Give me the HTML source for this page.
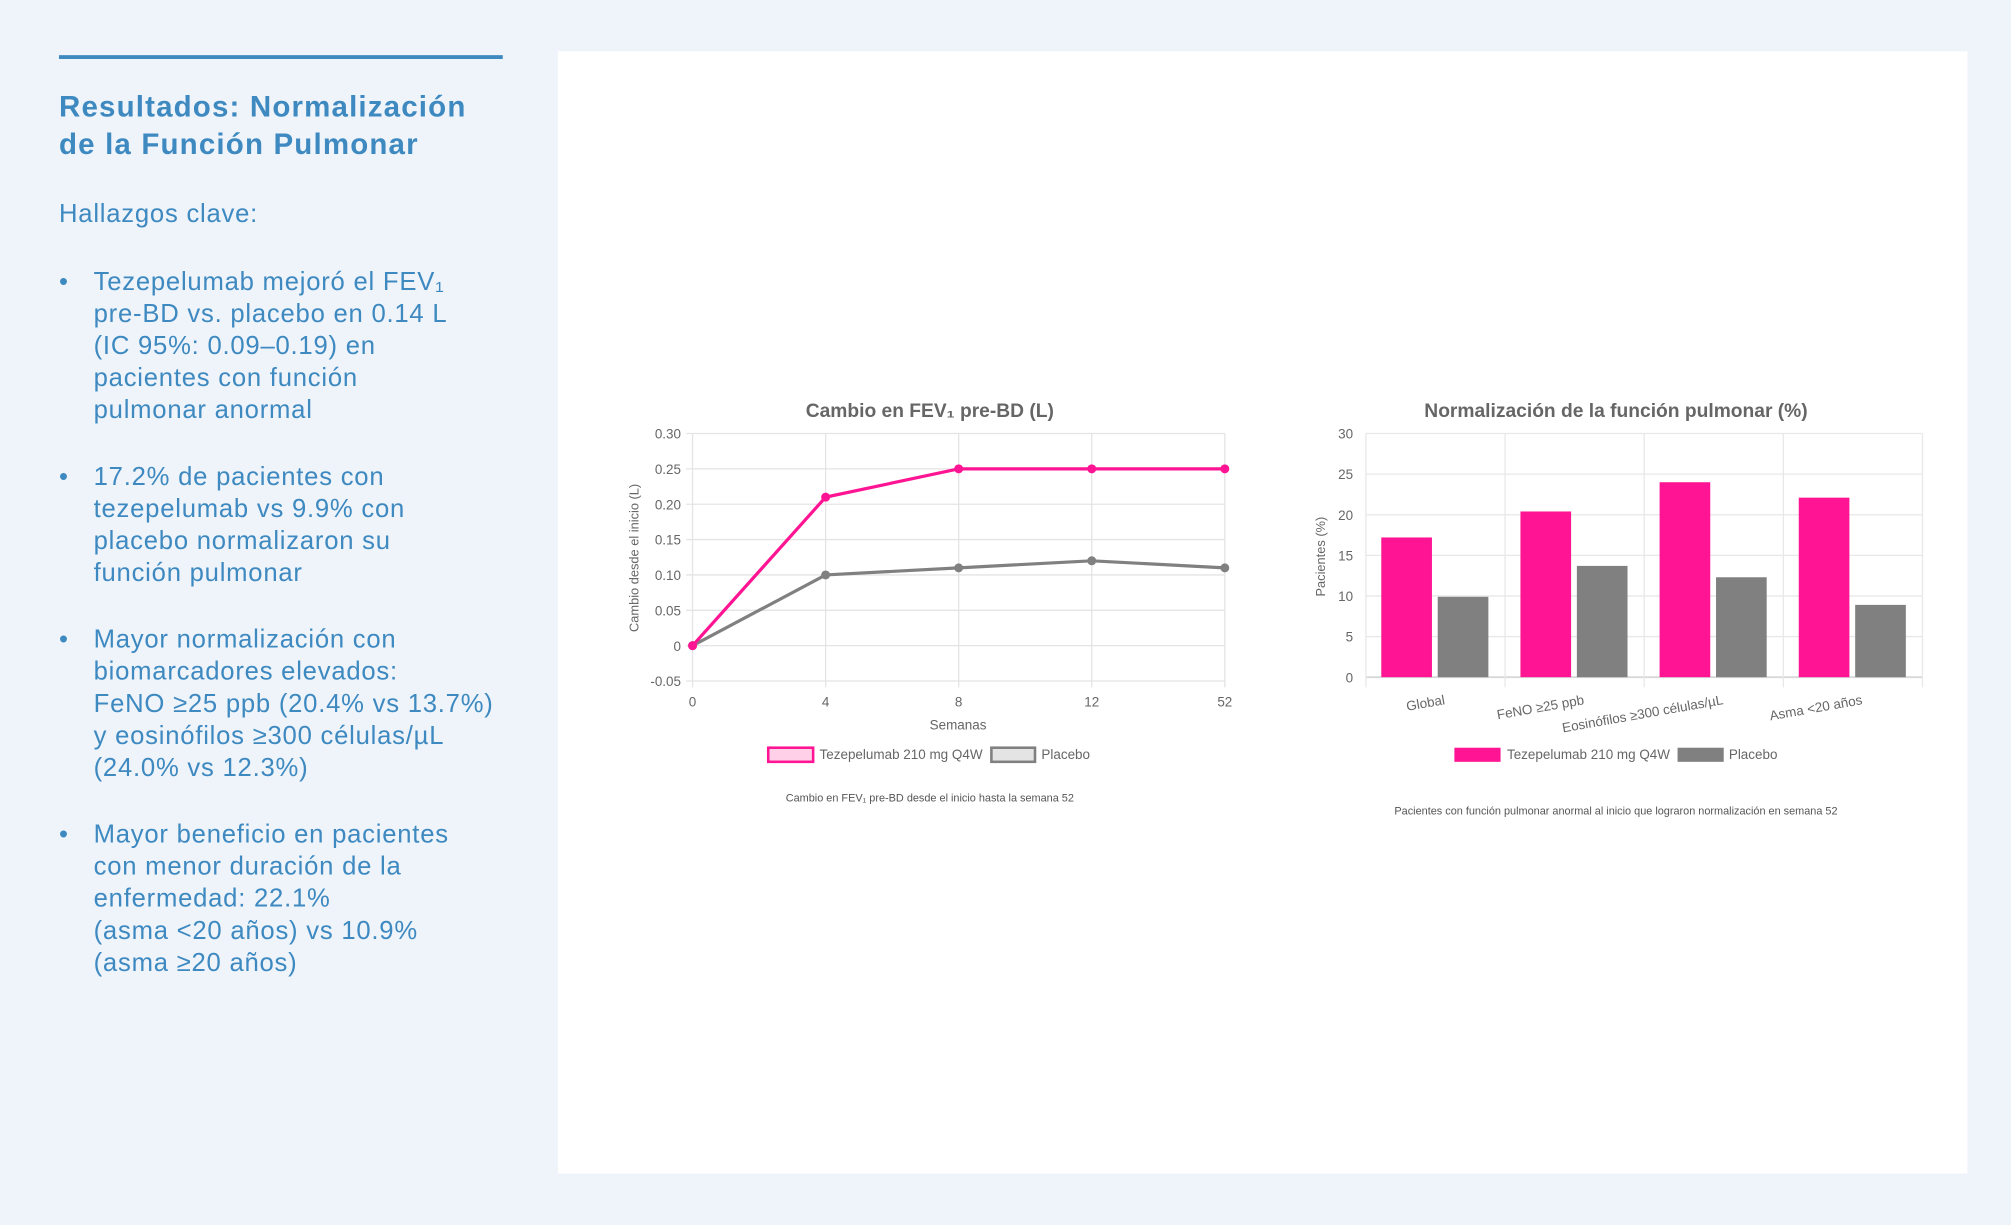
<!DOCTYPE html>
<html><head><meta charset="utf-8">
<style>
html,body{margin:0;padding:0;width:2011px;height:1225px;overflow:hidden;background:#eff4fb;}
#wrap{position:absolute;left:0;top:0;width:1568px;height:955px;transform:scale(1.28253);transform-origin:0 0;font-family:"Liberation Sans",sans-serif;}
.rule{position:absolute;left:46px;top:43px;width:346px;height:3px;background:#3d89c0;}
h1{position:absolute;left:46px;top:69px;margin:0;font-size:23px;line-height:29px;font-weight:bold;color:#3d89c0;white-space:nowrap;letter-spacing:0.9px;}
.sub{position:absolute;left:46px;top:156px;font-size:20px;color:#3d89c0;letter-spacing:0.6px;}
ul{position:absolute;left:46px;top:208px;margin:0;padding:0;list-style:none;}
li{position:relative;padding-left:27px;font-size:20px;line-height:25px;color:#3d89c0;margin-bottom:27px;white-space:nowrap;letter-spacing:0.6px;}
li:before{content:"•";position:absolute;left:0;top:0;}
.card{position:absolute;left:435px;top:40px;width:1099px;height:875px;background:#fff;}
svg text{font-family:"Liberation Sans",sans-serif;}
</style></head><body>
<div id="wrap">
<div class="rule"></div>
<h1>Resultados: Normalización<br>de la Función Pulmonar</h1>
<div class="sub">Hallazgos clave:</div>
<ul>
<li>Tezepelumab mejoró el FEV₁<br>pre-BD vs. placebo en 0.14 L<br>(IC 95%: 0.09–0.19) en<br>pacientes con función<br>pulmonar anormal</li>
<li>17.2% de pacientes con<br>tezepelumab vs 9.9% con<br>placebo normalizaron su<br>función pulmonar</li>
<li>Mayor normalización con<br>biomarcadores elevados:<br>FeNO ≥25 ppb (20.4% vs 13.7%)<br>y eosinófilos ≥300 células/µL<br>(24.0% vs 12.3%)</li>
<li>Mayor beneficio en pacientes<br>con menor duración de la<br>enfermedad: 22.1%<br>(asma &lt;20 años) vs 10.9%<br>(asma ≥20 años)</li>
</ul>
<div class="card"></div>
<svg id="svg" width="1568" height="955" style="position:absolute;left:0;top:0"></svg>
</div>
<script>
const weeks=["0","4","8","12","52"];
const tezeLine=[0,0.21,0.25,0.25,0.25];
const placeboLine=[0,0.10,0.11,0.12,0.11];
const lineTicks=[0.30,0.25,0.20,0.15,0.10,0.05,0,-0.05];
const barCats=["Global","FeNO ≥25 ppb","Eosinófilos ≥300 células/µL","Asma <20 años"];
const tezeBars=[17.2,20.4,24.0,22.1];
const placeboBars=[9.9,13.7,12.3,8.9];
const barTicks=[30,25,20,15,10,5,0];

const NS="http://www.w3.org/2000/svg";
const svg=document.getElementById('svg');
function mk(tag,attrs,parent,text){const e=document.createElementNS(NS,tag);for(const k in attrs)e.setAttribute(k,attrs[k]);if(text!==undefined)e.textContent=text;(parent||svg).appendChild(e);return e;}

// ---- line chart ----
const L={x0:540,x1:955,y0:338,y1:531,min:-0.05,max:0.30};
const lx=i=>L.x0+i*(L.x1-L.x0)/(weeks.length-1);
const ly=v=>L.y0+(L.max-v)/(L.max-L.min)*(L.y1-L.y0);
let t=mk('text',{x:725,y:325,'text-anchor':'middle','font-size':15,'font-weight':'bold',fill:'#666'},null,'Cambio en FEV₁ pre-BD (L)');

lineTicks.forEach(v=>{
 let g=mk('line',{x1:L.x0-5,x2:L.x1,y1:ly(v),y2:ly(v),stroke:'#e4e4e4','stroke-width':1});
 
 let s=mk('text',{x:L.x0-9,y:ly(v)+4,'text-anchor':'end','font-size':10.5,fill:'#666'},null,v===0?'0':v.toFixed(2));
 
});
weeks.forEach((w,i)=>{
 let g=mk('line',{x1:lx(i),x2:lx(i),y1:L.y0,y2:L.y1+5,stroke:'#e4e4e4','stroke-width':1});
 
 let s=mk('text',{x:lx(i),y:551,'text-anchor':'middle','font-size':10.5,fill:'#666'},null,w);
 
});
t=mk('text',{x:747,y:569,'text-anchor':'middle','font-size':10.5,fill:'#666'},null,'Semanas');

t=mk('text',{x:0,y:0,'text-anchor':'middle','font-size':10,fill:'#666',transform:'translate(498,435) rotate(-90)'},null,'Cambio desde el inicio (L)');

[[placeboLine,'#808080','placebo'],[tezeLine,'#ff1493','tezepelumab']].forEach(([d,c,n])=>{
 let p=mk('polyline',{points:d.map((v,i)=>lx(i)+','+ly(v)).join(' '),fill:'none',stroke:c,'stroke-width':2.5});
 
 d.forEach((v,i)=>{let m=mk('circle',{cx:lx(i),cy:ly(v),r:3,fill:c,stroke:c,'stroke-width':1});
 });
});
let r=mk('rect',{x:599,y:583,width:35,height:11,fill:'#ffd0e8',stroke:'#ff1493','stroke-width':2});

t=mk('text',{x:639,y:592,'font-size':10.5,fill:'#666'},null,'Tezepelumab 210 mg Q4W');

r=mk('rect',{x:773,y:583,width:34,height:11,fill:'#e4e4e4',stroke:'#808080','stroke-width':2});

t=mk('text',{x:812,y:592,'font-size':10.5,fill:'#666'},null,'Placebo');

t=mk('text',{x:725,y:625,'text-anchor':'middle','font-size':8.5,fill:'#555'},null,'Cambio en FEV₁ pre-BD desde el inicio hasta la semana 52');


// ---- bar chart ----
const B={x0:1065,x1:1499,y0:338,y1:528,max:30};
const bw=(B.x1-B.x0)/barCats.length;
const by=v=>B.y1-v/B.max*(B.y1-B.y0);
t=mk('text',{x:1260,y:325,'text-anchor':'middle','font-size':15,'font-weight':'bold',fill:'#666'},null,'Normalización de la función pulmonar (%)');

barTicks.forEach(v=>{
 let g=mk('line',{x1:B.x0,x2:B.x1,y1:by(v),y2:by(v),stroke:v===0?'#d8d8d8':'#e8e8e8','stroke-width':v===0?1.5:1});
 
 let s=mk('text',{x:B.x0-10,y:by(v)+4,'text-anchor':'end','font-size':10.5,fill:'#666'},null,String(v));
 
});
for(let i=0;i<=barCats.length;i++){
 let g=mk('line',{x1:B.x0+i*bw,x2:B.x0+i*bw,y1:B.y0,y2:B.y1+8,stroke:'#e8e8e8','stroke-width':1});
 
}
barCats.forEach((c,i)=>{
 const bx=B.x0+i*bw;
 let a=mk('rect',{x:bx+12,y:by(tezeBars[i]),width:39.5,height:B.y1-by(tezeBars[i]),fill:'#ff1493'});
 
 let b=mk('rect',{x:bx+56,y:by(placeboBars[i]),width:39.5,height:B.y1-by(placeboBars[i]),fill:'#808080'});
 
 let s=mk('text',{x:0,y:0,'text-anchor':'end','font-size':10.5,fill:'#666',transform:`translate(${bx+62},${549}) rotate(-10)`},null,c);
 
});
t=mk('text',{x:0,y:0,'text-anchor':'middle','font-size':10,fill:'#666',transform:'translate(1033,434) rotate(-90)'},null,'Pacientes (%)');

r=mk('rect',{x:1134,y:583,width:36,height:11,fill:'#ff1493'});

t=mk('text',{x:1175,y:592,'font-size':10.5,fill:'#666'},null,'Tezepelumab 210 mg Q4W');

r=mk('rect',{x:1308,y:583,width:36,height:11,fill:'#808080'});

t=mk('text',{x:1348,y:592,'font-size':10.5,fill:'#666'},null,'Placebo');

t=mk('text',{x:1260,y:635,'text-anchor':'middle','font-size':8.5,fill:'#555'},null,'Pacientes con función pulmonar anormal al inicio que lograron normalización en semana 52');

</script>
</body></html>
